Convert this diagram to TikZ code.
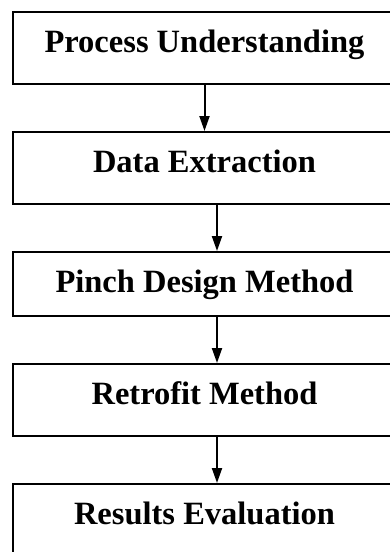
\documentclass[tikz,border=0pt]{standalone}
\usepackage{fontspec}
\setmainfont{Liberation Serif}
\usetikzlibrary{arrows.meta}

\tikzset{
  stage/.style={draw, line width=2pt, anchor=north, inner sep=0pt,
    minimum width=383pt, text height=40pt, text depth=32pt,
    font=\fontsize{32.5}{37}\selectfont\bfseries},
  flow/.style={line width=2pt, -{Triangle[length=15pt,width=10pt]}}
}

\begin{document}
\begin{tikzpicture}[x=1pt,y=-1pt]
\useasboundingbox (0,0) rectangle (390,552);
\clip (0,0) rectangle (390,552);

\node[stage] (und) at (204.5,11) {Process Understanding};
\node[stage] (ext) at (204.5,131) {Data Extraction};
\node[stage, text depth=24pt] (pdm) at (204.5,251) {Pinch Design Method};
\node[stage] (ret) at (204.5,363) {Retrofit Method};
\node[stage, text depth=60pt] (res) at (204.5,483) {Results Evaluation};

\draw[flow] (und.south) -- (ext.north);
\draw[flow] ([xshift=12.5pt]ext.south) -- ([xshift=12.5pt]pdm.north);
\draw[flow] ([xshift=12.5pt]pdm.south) -- ([xshift=12.5pt]ret.north);
\draw[flow] ([xshift=12.5pt]ret.south) -- ([xshift=12.5pt]res.north);
\end{tikzpicture}
\end{document}
